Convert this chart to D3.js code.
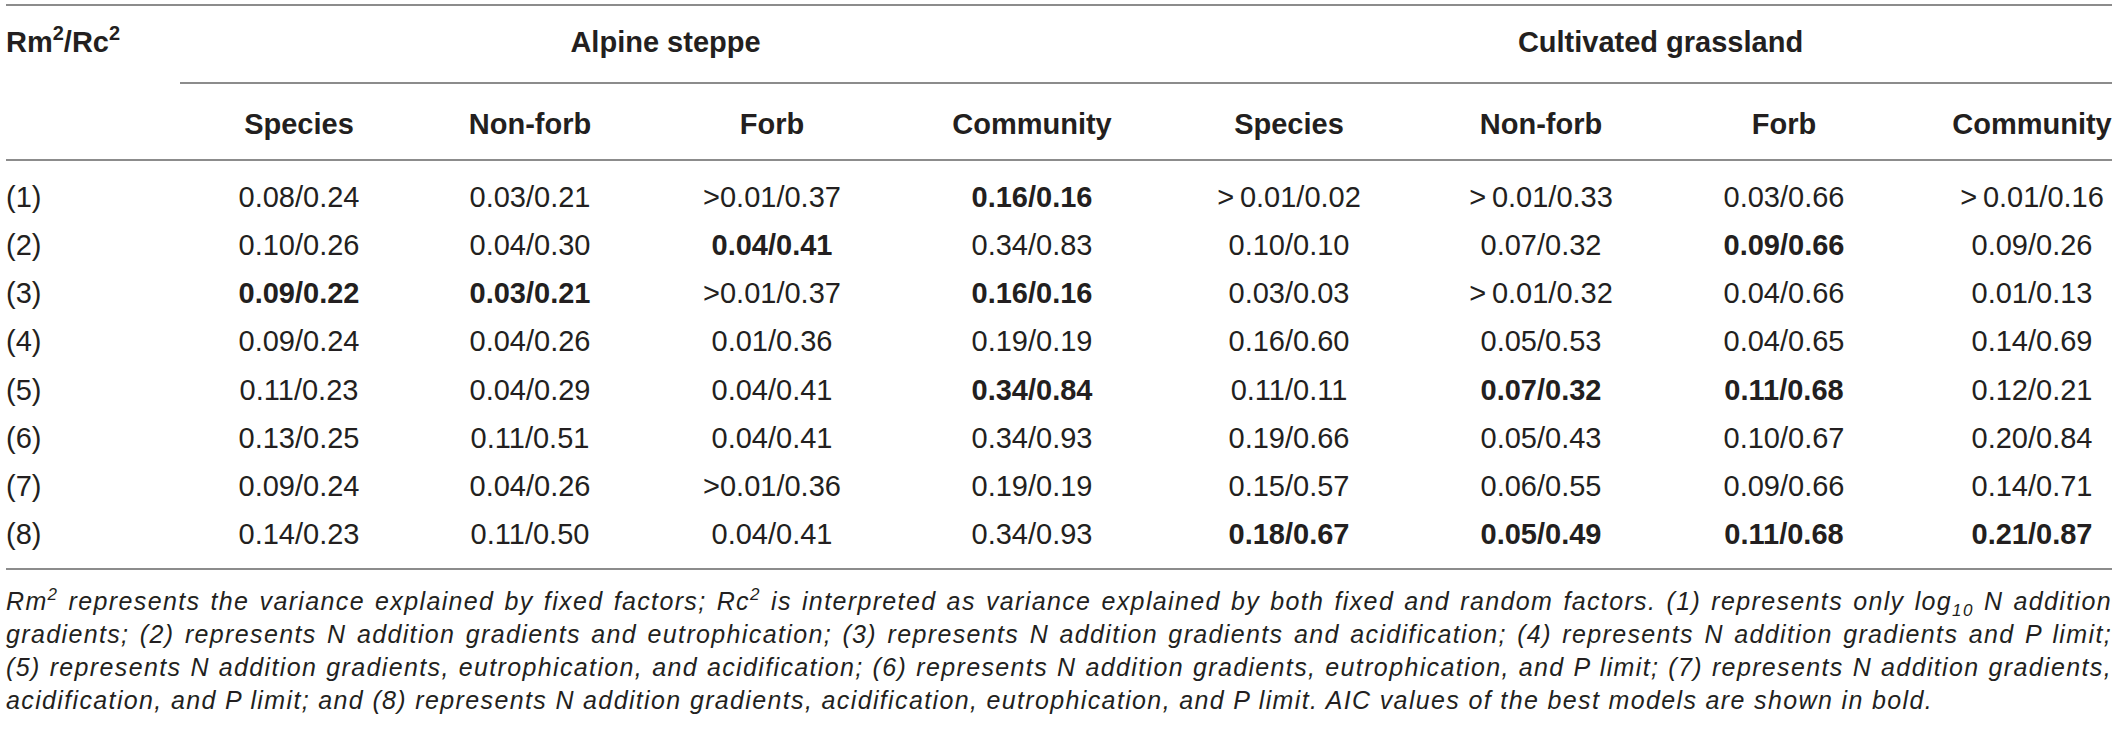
<!DOCTYPE html>
<html>
<head>
<meta charset="utf-8">
<script src="https://cdn.jsdelivr.net/npm/d3@7/dist/d3.min.js"></script>
<style>
  body { margin: 0; background: #fff; }
  svg { display: block; }
</style>
</head>
<body>
<div id="chart"></div>
<script>
// row labels and column headers
var rowLabels = ["(1)", "(2)", "(3)", "(4)", "(5)", "(6)", "(7)", "(8)"];
var groups = ["Alpine steppe", "Cultivated grassland"];
var subHeads = ["Species", "Non-forb", "Forb", "Community",
                "Species", "Non-forb", "Forb", "Community"];

// Rm2/Rc2 values, one array per column
var alpineSpecies   = ["0.08/0.24", "0.10/0.26", "0.09/0.22", "0.09/0.24", "0.11/0.23", "0.13/0.25", "0.09/0.24", "0.14/0.23"];
var alpineNonforb   = ["0.03/0.21", "0.04/0.30", "0.03/0.21", "0.04/0.26", "0.04/0.29", "0.11/0.51", "0.04/0.26", "0.11/0.50"];
var alpineForb      = [">0.01/0.37", "0.04/0.41", ">0.01/0.37", "0.01/0.36", "0.04/0.41", "0.04/0.41", ">0.01/0.36", "0.04/0.41"];
var alpineCommunity = ["0.16/0.16", "0.34/0.83", "0.16/0.16", "0.19/0.19", "0.34/0.84", "0.34/0.93", "0.19/0.19", "0.34/0.93"];
var cultSpecies     = [">\u20090.01/0.02", "0.10/0.10", "0.03/0.03", "0.16/0.60", "0.11/0.11", "0.19/0.66", "0.15/0.57", "0.18/0.67"];
var cultNonforb     = [">\u20090.01/0.33", "0.07/0.32", ">\u20090.01/0.32", "0.05/0.53", "0.07/0.32", "0.05/0.43", "0.06/0.55", "0.05/0.49"];
var cultForb        = ["0.03/0.66", "0.09/0.66", "0.04/0.66", "0.04/0.65", "0.11/0.68", "0.10/0.67", "0.09/0.66", "0.11/0.68"];
var cultCommunity   = [">\u20090.01/0.16", "0.09/0.26", "0.01/0.13", "0.14/0.69", "0.12/0.21", "0.20/0.84", "0.14/0.71", "0.21/0.87"];

// rows (0-based) printed in bold (best AIC) for each column
var boldRows = [[2], [2], [1], [0, 2, 4], [7], [4, 7], [1, 4, 7], [7]];

// footnote, one array of [text, kind] pieces per printed line
var note1 = [["Rm", ""], ["2", "sup"], [" represents the variance explained by fixed factors; Rc", ""], ["2", "sup"],
             [" is interpreted as variance explained by both fixed and random factors. (1) represents only log", ""],
             ["10", "sub"], [" N addition", ""]];
var note2 = [["gradients; (2) represents N addition gradients and eutrophication; (3) represents N addition gradients and acidification; (4) represents N addition gradients and P limit;", ""]];
var note3 = [["(5) represents N addition gradients, eutrophication, and acidification; (6) represents N addition gradients, eutrophication, and P limit; (7) represents N addition gradients,", ""]];
var note4 = [["acidification, and P limit; and (8) represents N addition gradients, acidification, eutrophication, and P limit. AIC values of the best models are shown in bold.", ""]];

var columns = [alpineSpecies, alpineNonforb, alpineForb, alpineCommunity,
               cultSpecies, cultNonforb, cultForb, cultCommunity];

var w = 2118;
var h = 735;
var left = 6, right = 2112;
var lastLineEnd = 1933;
var ink = "#231f20";
var rule = "#8c8c8c";
var font = "'Liberation Sans', Arial, Helvetica, sans-serif";

var svg = d3.select("#chart")
            .append("svg")
            .attr("width", w)
            .attr("height", h)
            .style("font-family", font);

// column centres and row positions
var x = d3.scaleOrdinal()
    .domain(d3.range(columns.length))
    .range([299, 530, 772, 1032, 1289, 1541, 1784, 2032]);
var y = d3.scalePoint()
    .domain(rowLabels)
    .range([197, 534]);
var noteY = d3.scalePoint()
    .domain([0, 1, 2, 3])
    .range([610, 709]);

// horizontal rules
var rules = [{x1: left, x2: right, y: 5},
             {x1: 180, x2: right, y: 83},
             {x1: left, x2: right, y: 160},
             {x1: left, x2: right, y: 569}];
svg.selectAll("line.rule")
    .data(rules)
    .enter()
    .append("line")
    .attr("class", "rule")
    .attr("x1", function(d) { return d.x1; })
    .attr("x2", function(d) { return d.x2; })
    .attr("y1", function(d) { return d.y; })
    .attr("y2", function(d) { return d.y; })
    .attr("stroke", rule)
    .attr("stroke-width", 2);

// top-left stub header Rm2/Rc2
var stub = svg.append("text")
    .attr("x", left)
    .attr("y", 52)
    .attr("font-size", 29)
    .attr("font-weight", "bold")
    .attr("fill", ink);
stub.append("tspan").text("Rm");
stub.append("tspan").attr("dy", -12).attr("font-size", 20).text("2");
stub.append("tspan").attr("dy", 12).text("/Rc");
stub.append("tspan").attr("dy", -12).attr("font-size", 20).text("2");

// group headers
svg.selectAll("text.group")
    .data(groups)
    .enter()
    .append("text")
    .attr("class", "group")
    .attr("x", function(d, i) { return (x(i * 4) + x(i * 4 + 3)) / 2; })
    .attr("y", 52)
    .attr("text-anchor", "middle")
    .attr("font-size", 29)
    .attr("font-weight", "bold")
    .attr("fill", ink)
    .text(function(d) { return d; });

// sub headers
svg.selectAll("text.sub")
    .data(subHeads)
    .enter()
    .append("text")
    .attr("class", "sub")
    .attr("x", function(d, i) { return x(i); })
    .attr("y", 134)
    .attr("text-anchor", "middle")
    .attr("font-size", 29)
    .attr("font-weight", "bold")
    .attr("fill", ink)
    .text(function(d) { return d; });

// row labels
svg.selectAll("text.rowlab")
    .data(rowLabels)
    .enter()
    .append("text")
    .attr("class", "rowlab")
    .attr("x", left)
    .attr("y", function(d) { return y(d) + 10; })
    .attr("font-size", 29)
    .attr("fill", ink)
    .text(function(d) { return d; });

// cells
columns.forEach(function(col, ci) {
  svg.selectAll("text.c" + ci)
      .data(col)
      .enter()
      .append("text")
      .attr("class", "c" + ci)
      .attr("x", x(ci))
      .attr("y", function(d, ri) { return y(rowLabels[ri]) + 10; })
      .attr("text-anchor", "middle")
      .attr("font-size", 29)
      .attr("font-weight", function(d, ri) {
        return boldRows[ci].indexOf(ri) >= 0 ? "bold" : "normal";
      })
      .attr("fill", ink)
      .text(function(d) { return d; });
});

// footnote
var noteSize = 25;
var notes = [note1, note2, note3, note4];
var noteTexts = notes.map(function(parts, li) {
  var t = svg.append("text")
      .attr("x", left)
      .attr("y", noteY(li))
      .attr("font-size", noteSize)
      .attr("font-style", "italic")
      .attr("fill", ink);
  parts.forEach(function(p, i) {
    var s = t.append("tspan").text(p[0]);
    var prev = i > 0 ? parts[i - 1][1] : "";
    if (p[1] === "sup") s.attr("dy", -10).attr("font-size", 17);
    else if (p[1] === "sub") s.attr("dy", 6).attr("font-size", 17);
    else if (prev === "sup") s.attr("dy", 10);
    else if (prev === "sub") s.attr("dy", -6);
  });
  return t;
});

// widen the letters a little so the last (ragged) line ends where it does in print
var lastText = note4[0][0];
var base = noteTexts[3].node().getComputedTextLength();
var ls = (lastLineEnd - left - base) / lastText.length;
noteTexts.forEach(function(t) { t.attr("letter-spacing", ls); });

// first three lines justified to the full width
noteTexts.slice(0, 3).forEach(function(t, li) {
  var natural = t.node().getComputedTextLength();
  var spaces = notes[li].map(function(p) { return p[0]; }).join("").split(" ").length - 1;
  t.attr("word-spacing", (right - left - natural) / spaces);
});
</script>
</body>
</html>
